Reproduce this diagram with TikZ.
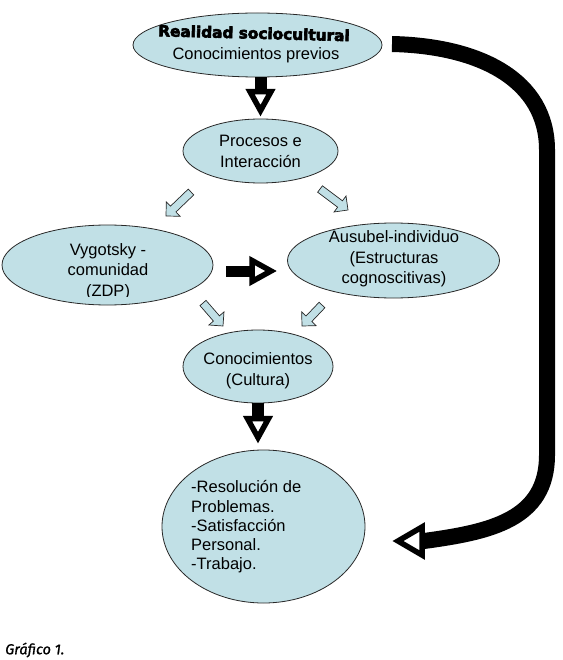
\documentclass[tikz,border=0pt]{standalone}
\usepackage{fontspec}
\setmainfont{Liberation Sans}
\newfontfamily\heavyfont{DejaVu Sans}[FakeBold=4]
\newfontfamily\capfont{Fira Sans}[FakeBold=1]
\usetikzlibrary{calc,shapes.geometric}

\definecolor{bubble}{RGB}{193,224,230}
\definecolor{rim}{RGB}{40,40,40}

\tikzset{
  bubble/.style={ellipse,draw=rim,fill=bubble,line width=0.8pt,inner sep=0pt},
  txt/.style={align=center,inner sep=0pt,font=\fontsize{16.5}{20.5}\selectfont},
  softarrow/.style={draw=rim,fill=bubble,line width=0.7pt,line join=miter},
  headarrow/.style={draw=black,fill=white,line width=5.5pt,line join=miter},
}

% head of a black block arrow: direction point, tip, length, half width
\newcommand\arrowhead[4]{%
  \coordinate (tp) at ($(#2)!6pt!(#1)$);
  \coordinate (hb) at ($(tp)!#3!(#1)$);
  \draw[headarrow] (tp) -- ($(hb)!#4!90:(tp)$) -- ($(hb)!#4!-90:(tp)$) -- cycle;}
% black block arrow: shaft width, tail, tip
\newcommand\blockarr[3][12pt]{%
  \coordinate (tp) at ($(#3)!6pt!(#2)$);
  \coordinate (hb) at ($(tp)!19pt!(#2)$);
  \draw[line width=#1] (#2) -- (hb);
  \arrowhead{#2}{#3}{19pt}{10.5pt}}
% light outlined block arrow: tail, tip
\newcommand\softarr[2]{%
  \coordinate (sb) at ($(#2)!10pt!(#1)$);
  \draw[softarrow] ($(#1)!4pt!90:(#2)$) -- ($(sb)!4pt!90:(#2)$) -- ($(sb)!10pt!90:(#2)$)
    -- (#2) -- ($(sb)!10pt!-90:(#2)$) -- ($(sb)!4pt!-90:(#2)$) -- ($(#1)!4pt!-90:(#2)$) -- cycle;}

\begin{document}
\begin{tikzpicture}[x=1pt,y=-1pt]
  \useasboundingbox (0,0) rectangle (562,660);

  % bubbles
  \node[bubble,minimum width=249,minimum height=64] (real) at (257.5,45) {};
  \node[bubble,minimum width=155,minimum height=64] (proc) at (260.5,151) {};
  \node[bubble,minimum width=211,minimum height=80] (vyg) at (107.5,265) {};
  \node[bubble,minimum width=212,minimum height=75] (aus) at (393.5,260.5) {};
  \node[bubble,minimum width=150,minimum height=73] (con) at (258,366.5) {};
  \node[bubble,minimum width=203,minimum height=153] (res) at (263.5,526.5) {};

  % texts
  \node[inner sep=0pt,rotate=-1.5,font=\heavyfont\bfseries\fontsize{15.3}{18}\selectfont] (realT1) at (254,33) {Realidad sociocultural};
  \node[txt] (realT2) at (256,55) {Conocimientos previos};
  \node[txt] (procT) at (260.5,151.5) {Procesos e\\Interacción};
  \begin{scope}
    \clip (0,228) rectangle (216,296);
    \node[txt] (vygT) at (108,271.5) {Vygotsky -\\comunidad\\(ZDP)};
  \end{scope}
  \node[txt] (ausT) at (394,259) {Ausubel-individuo\\(Estructuras\\cognoscitivas)};
  \node[txt] (conT) at (258,370.5) {Conocimientos\\(Cultura)};
  \node[txt,align=left,anchor=west,font=\fontsize{16.5}{19.3}\selectfont] (resT) at (191,527)
    {-Resolución de\\Problemas.\\-Satisfacción\\Personal.\\-Trabajo.};

  % black arrows
  \coordinate (rpA) at (real.south -| proc.north);
  \coordinate (rpB) at ($(proc.north)+(0,-2)$);
  \blockarr{rpA}{rpB}
  \coordinate (crA) at (con.south);
  \coordinate (crB) at ($(con.south |- res.north)+(0,-6)$);
  \blockarr{crA}{crB}
  \coordinate (vaA) at (226,271);
  \coordinate (vaB) at (277,271);
  \blockarr[11pt]{vaA}{vaB}

  % light arrows
  \coordinate (pvA) at (191,192);  \coordinate (pvB) at (166,216);
  \coordinate (paA) at (320,189);  \coordinate (paB) at (348,210);
  \coordinate (vcA) at (203,303);  \coordinate (vcB) at (223,326);
  \coordinate (acA) at (322,305);  \coordinate (acB) at (302,326);
  \softarr{pvA}{pvB}
  \softarr{paA}{paB}
  \softarr{vcA}{vcB}
  \softarr{acA}{acB}

  % loop back arrow
  \coordinate (loopS) at (392,44);
  \coordinate (loopB) at (424,541);
  \coordinate (loopE) at (392,541);
  \draw[line width=16pt] (loopS) .. controls (480,46) and (547,80) .. (547,150)
    -- (547,455) .. controls (547,520) and (490,532) .. (loopB);
  \arrowhead{loopB}{loopE}{24pt}{14pt}

  \node[anchor=west,inner sep=0pt,font=\capfont\itshape\fontsize{14.5}{16}\selectfont] (cap) at (5,650) {Gráfico 1.};
\end{tikzpicture}
\end{document}
